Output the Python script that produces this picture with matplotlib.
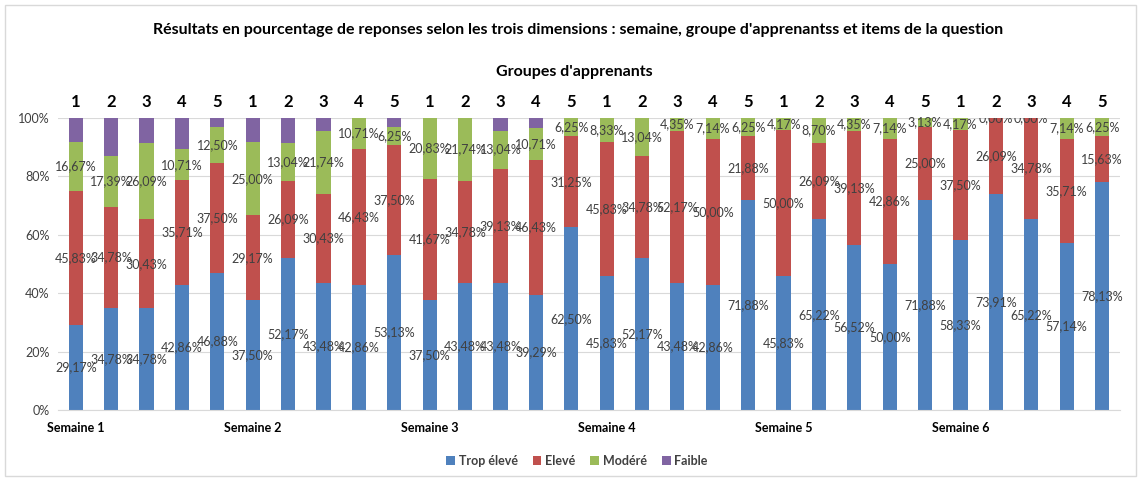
#!/usr/bin/env python3
"""Stacked percentage bars: results per week, learner group and answer item."""
import matplotlib
matplotlib.use("Agg")
import matplotlib.pyplot as plt
import numpy as np

plt.rcParams["font.family"] = ["Lato", "DejaVu Sans"]

BLUE = "#4F81BD"
RED = "#C0504D"
GREEN = "#9BBB59"
PURPLE = "#8064A2"
TXT = "#404040"

weeks = ["Semaine 1", "Semaine 2", "Semaine 3", "Semaine 4", "Semaine 5", "Semaine 6"]
groups = ["1", "2", "3", "4", "5"]

# one value per bar, week by week, groups 1..5
trop_eleve = [29.17, 34.78, 34.78, 42.86, 46.88,
              37.50, 52.17, 43.48, 42.86, 53.13,
              37.50, 43.48, 43.48, 39.29, 62.50,
              45.83, 52.17, 43.48, 42.86, 71.88,
              45.83, 65.22, 56.52, 50.00, 71.88,
              58.33, 73.91, 65.22, 57.14, 78.13]
eleve = [45.83, 34.78, 30.43, 35.71, 37.50,
         29.17, 26.09, 30.43, 46.43, 37.50,
         41.67, 34.78, 39.13, 46.43, 31.25,
         45.83, 34.78, 52.17, 50.00, 21.88,
         50.00, 26.09, 39.13, 42.86, 25.00,
         37.50, 26.09, 34.78, 35.71, 15.63]
modere = [16.67, 17.39, 26.09, 10.71, 12.50,
          25.00, 13.04, 21.74, 10.71, 6.25,
          20.83, 21.74, 13.04, 10.71, 6.25,
          8.33, 13.04, 4.35, 7.14, 6.25,
          4.17, 8.70, 4.35, 7.14, 3.13,
          4.17, 0.00, 0.00, 7.14, 6.25]
faible = [8.33, 13.04, 8.70, 10.71, 3.13,
          8.33, 8.70, 4.35, 0.00, 3.13,
          0.00, 0.00, 4.35, 3.57, 0.00,
          0.00, 0.00, 0.00, 0.00, 0.00,
          0.00, 0.00, 0.00, 0.00, 0.00,
          0.00, 0.00, 0.00, 0.00, 0.00]

series = [("Trop élevé", trop_eleve, BLUE, True),
          ("Elevé", eleve, RED, True),
          ("Modéré", modere, GREEN, True),
          ("Faible", faible, PURPLE, False)]

fig = plt.figure(figsize=(11.38, 4.79), dpi=100)
ax = fig.add_axes([0.051, 0.144, 0.933, 0.610])

x = np.arange(len(trop_eleve))
bottom = np.zeros(len(x))
for name, vals, col, labelled in series:
    vals = np.array(vals)
    ax.bar(x, vals, 0.4, bottom=bottom, color=col, label=name, zorder=2)
    if labelled:
        for xi, b, v in zip(x, bottom, vals):
            y = b + v / 2
            # labels sitting on the 100% edge get cut at the plot top, as in the original
            ax.text(xi, y, f"{v:.2f}%".replace(".", ","), ha="center", va="center",
                    fontsize=9, color=TXT, zorder=3, clip_on=y >= 99.5)
    bottom += vals

ax.set_xlim(-0.5, len(x) - 0.5)
ax.set_ylim(0, 100)
ax.set_yticks(np.arange(0, 101, 20))
ax.set_yticklabels([f"{v}%" for v in range(0, 101, 20)], fontsize=9, color=TXT)
ax.set_xticks([])
ax.grid(axis="y", color="#D9D9D9", linewidth=0.8, zorder=0)
for s in ["top", "right", "left"]:
    ax.spines[s].set_visible(False)
ax.spines["bottom"].set_color("#D9D9D9")
ax.tick_params(axis="y", length=0, pad=6)

trans = ax.get_xaxis_transform()
for i, xi in enumerate(x):
    ax.text(xi, 1.055, groups[i % len(groups)], transform=trans, ha="center", va="center",
            fontsize=12, fontweight="bold", color="black")
for w, name in enumerate(weeks):
    ax.text(w * len(groups), -0.062, name, transform=trans, ha="center", va="center",
            fontsize=9, fontweight="bold", color="black")

fig.text(0.508, 0.937, "Résultats en pourcentage de reponses selon les trois dimensions : semaine, "
         "groupe d'apprenantss et items de la question",
         ha="center", va="center", fontsize=11.5, fontweight="bold", color="black")
fig.text(0.505, 0.85, "Groupes d'apprenants", ha="center", va="center",
         fontsize=11.5, fontweight="bold", color="black")

leg = fig.legend(loc="center", bbox_to_anchor=(0.507, 0.038), ncol=4, frameon=False,
                 fontsize=9, handlelength=0.7, handleheight=0.7, handletextpad=0.3,
                 columnspacing=1.2)
for t in leg.get_texts():
    t.set_fontweight("bold")
    t.set_color(TXT)

fig.patches.append(plt.Rectangle((0.004, 0.006), 0.994, 0.984, transform=fig.transFigure,
                                 fill=False, edgecolor="#D9D9D9", linewidth=1))

fig.savefig("out.png", dpi=100)
